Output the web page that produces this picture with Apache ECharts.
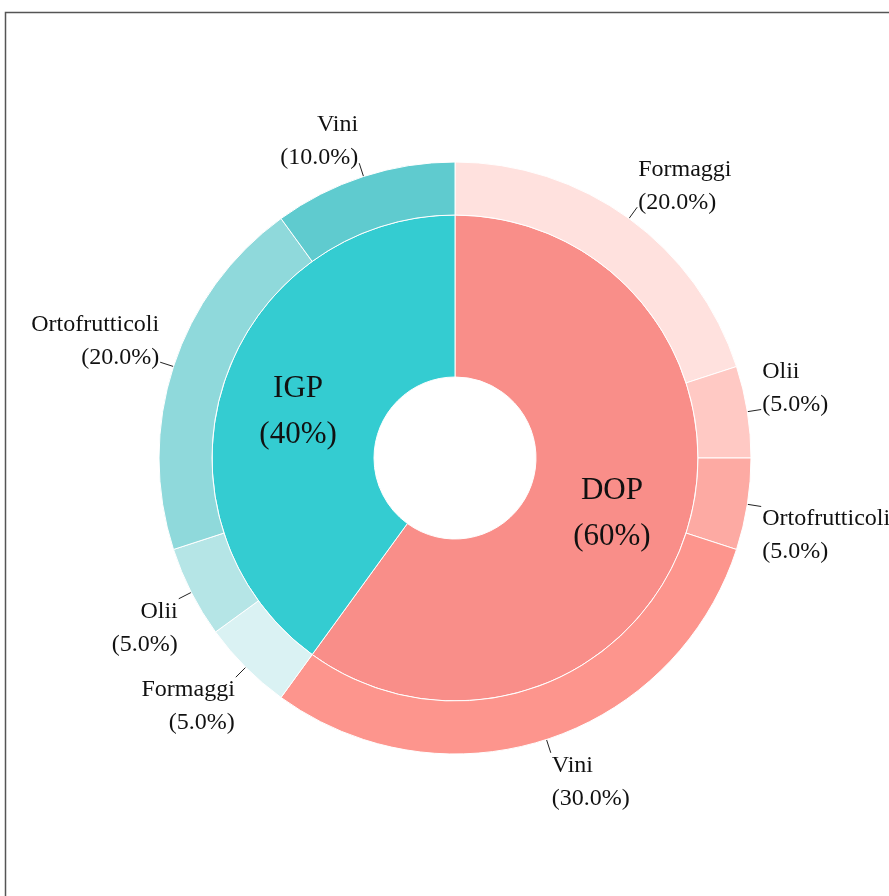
<!DOCTYPE html>
<html>
<head>
<meta charset="utf-8">
<style>
  html, body { margin: 0; padding: 0; background: #ffffff; }
  #chart { width: 889px; height: 896px; }
</style>
<script src="https://cdn.jsdelivr.net/npm/echarts@6/dist/echarts.min.js"></script>
</head>
<body>
<div id="chart"></div>
<script>
// ---- data ----
const groupNames = ['DOP', 'IGP'];
const groupValues = [60, 40];
const groupColors = ['#F98E89', '#34CCD1'];

const subNames = ['Formaggi', 'Olii', 'Ortofrutticoli', 'Vini',
                  'Formaggi', 'Olii', 'Ortofrutticoli', 'Vini'];
const subValues = [20, 5, 5, 30, 5, 5, 20, 10];
const subColors = ['#FFE1DE', '#FFC9C4', '#FDAAA3', '#FD958D',
                   '#DAF2F3', '#B5E5E6', '#8FD9DB', '#5FCBCF'];
// labels sitting above (true) or below (false) the end of their leader line
const subLabelAbove = [true, true, false, false, false, false, true, true];

const FONT = "'Liberation Serif', 'Times New Roman', serif";

const chart = echarts.init(document.getElementById('chart'), null, { renderer: 'canvas' });

const innerData = groupNames.map((n, i) => ({
  name: n, value: groupValues[i], itemStyle: { color: groupColors[i] }
}));

const outerData = subNames.map((n, i) => ({
  name: n,
  value: subValues[i],
  itemStyle: { color: subColors[i] },
  above: subLabelAbove[i]
}));

chart.setOption({
  animation: false,
  backgroundColor: '#ffffff',
  graphic: [{
    type: 'rect',
    shape: { x: 5.5, y: 12.5, width: 2000, height: 2000 },
    style: { fill: 'none', stroke: '#555555', lineWidth: 1.5 },
    silent: true
  }],
  series: [
    {
      type: 'pie',
      center: [455, 458],
      radius: [81, 243],
      startAngle: 90,
      clockwise: true,
      avoidLabelOverlap: false,
      silent: true,
      itemStyle: { borderColor: '#ffffff', borderWidth: 1 },
      label: {
        show: true,
        position: 'inside',
        fontFamily: FONT,
        fontSize: 31,
        lineHeight: 46,
        color: '#111111',
        formatter: p => '{s| }\n{g|' + p.name + '}\n{g|(' + p.value + '%)}',
        rich: {
          g: { fontFamily: FONT, fontSize: 31, lineHeight: 46, color: '#111111' },
          s: { fontSize: 8, lineHeight: 10 }
        }
      },
      labelLine: { show: false },
      labelLayout: { hideOverlap: false },
      data: innerData
    },
    {
      type: 'pie',
      center: [455, 458],
      radius: [243, 296],
      startAngle: 90,
      clockwise: true,
      avoidLabelOverlap: false,
      silent: true,
      itemStyle: { borderColor: '#ffffff', borderWidth: 1 },
      label: {
        show: true,
        position: 'outside',
        fontFamily: FONT,
        fontSize: 24,
        lineHeight: 33,
        color: '#111111',
        distanceToLabelLine: 1,
        formatter: p => {
          const t = '{t|' + p.name + '}\n{t|(' + p.value.toFixed(1) + '%)}';
          return p.data.above ? t + '\n{sa| }' : '{sb| }\n' + t;
        },
        rich: {
          t: { fontFamily: FONT, fontSize: 24, lineHeight: 33, color: '#111111' },
          sa: { fontSize: 10, lineHeight: 43 },
          sb: { fontSize: 10, lineHeight: 58 }
        }
      },
      labelLine: {
        show: true,
        length: 14,
        length2: 0,
        lineStyle: { color: '#222222', width: 1 }
      },
      labelLayout: { hideOverlap: false },
      data: outerData
    }
  ]
});
</script>
</body>
</html>
